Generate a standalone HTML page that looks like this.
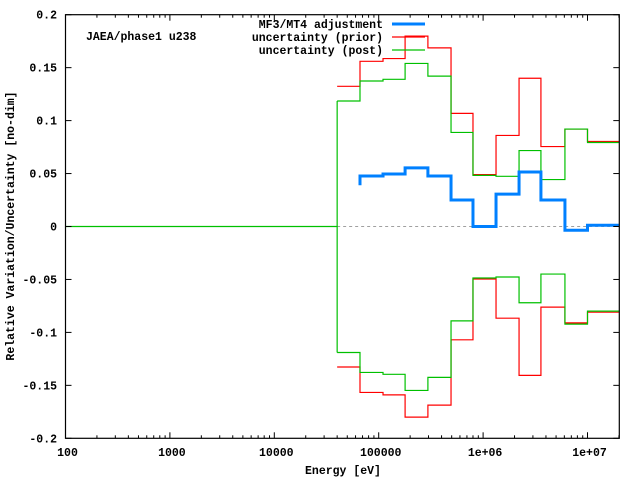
<!DOCTYPE html>
<html><head><meta charset="utf-8"><style>
body{margin:0;background:#fff}
svg{display:block}
text{font-family:"Liberation Mono",monospace;font-weight:bold;font-size:11.5px;fill:#000}
</style></head><body>
<svg id="chart" width="640" height="480" viewBox="0 0 640 480" xmlns="http://www.w3.org/2000/svg">
<g id="grid"></g>
<g id="series"></g>
<g id="axes"></g>
<text x="86" y="40">JAEA/phase1 u238</text>
<text x="343" y="474" text-anchor="middle">Energy [eV]</text>
<text transform="translate(14,226) rotate(-90)" text-anchor="middle">Relative Variation/Uncertainty [no-dim]</text>
<g>
<text x="383" y="28" text-anchor="end">MF3/MT4 adjustment</text>
<line x1="392" x2="425" y1="24" y2="24" stroke="#0080ff" stroke-width="3"/>
<text x="383" y="41" text-anchor="end">uncertainty (prior)</text>
<line x1="392" x2="425" y1="37" y2="37" stroke="#ff0000" stroke-width="1.2"/>
<text x="383" y="54" text-anchor="end">uncertainty (post)</text>
<line x1="392" x2="425" y1="50" y2="50" stroke="#00c000" stroke-width="1.2"/>
</g>
</svg>
<script>
const edges=[4e4,6.62e4,1.1e5,1.79e5,2.96e5,4.93e5,8.0e5,1.33e6,2.21e6,3.58e6,6.08e6,1e7,2e7];
const priorUp=[0.1324,0.156,0.1586,0.1798,0.1687,0.1068,0.049,0.086,0.140,0.0755,0.092,0.0803];
const priorLo=[-0.1327,-0.1567,-0.159,-0.180,-0.1687,-0.107,-0.0496,-0.0866,-0.1406,-0.0761,-0.091,-0.0809];
const postUp=[0.1185,0.1374,0.139,0.154,0.142,0.0888,0.0483,0.0474,0.0717,0.0443,0.092,0.0793];
const postLo=[-0.119,-0.1378,-0.1396,-0.1548,-0.1425,-0.0891,-0.0486,-0.0477,-0.072,-0.0449,-0.0922,-0.0799];
const adjStart=0.039;
const adj=[null,0.0477,0.0496,0.0553,0.0477,0.025,0,0.0306,0.0515,0.025,-0.0035,0.0012];
const yTicks=[0.2,0.15,0.1,0.05,0,-0.05,-0.1,-0.15,-0.2];
const yTickLabels=["0.2","0.15","0.1","0.05","0","-0.05","-0.1","-0.15","-0.2"];
const xTicks=[100,1000,10000,100000,1e6,1e7];
const xTickLabels=["100","1000","10000","100000","1e+06","1e+07"];

const L=65.5,R=619.3,T=14.7,B=438.3;
const X=e=>L+104.4*(Math.log10(e)-2);
const Y=v=>226.5-v*(B-T)/0.4;
const NS="http://www.w3.org/2000/svg";
function mk(tag,parent,attrs){const el=document.createElementNS(NS,tag);for(const k in attrs)el.setAttribute(k,attrs[k]);parent.appendChild(el);return el;}
const axes=document.getElementById('axes'),series=document.getElementById('series'),grid=document.getElementById('grid');

let zl=mk('line',grid,{x1:X(edges[0]),x2:R,y1:Y(0),y2:Y(0),stroke:'#a0a0a0','stroke-width':1,'stroke-dasharray':'3,3'});



function stepPath(vals,startIdx){let d='';for(let i=startIdx;i<vals.length;i++){const y=Y(vals[i]);if(i===startIdx)d+=`M${X(edges[i])},${y}`;else d+=`V${y}`;d+=`H${X(edges[i+1])}`;}return d;}

let p=mk('path',series,{d:stepPath(priorUp,0),fill:'none',stroke:'#ff0000','stroke-width':1.2});


p=mk('path',series,{d:stepPath(priorLo,0),fill:'none',stroke:'#ff0000','stroke-width':1.2});


p=mk('path',series,{d:`M${L},${Y(0)}H${X(edges[0])}V${Y(postLo[0])}M${X(edges[0])},${Y(postUp[0])}V${Y(0)}`,fill:'none',stroke:'#00c000','stroke-width':1.2});


p=mk('path',series,{d:stepPath(postUp,0),fill:'none',stroke:'#00c000','stroke-width':1.2});


p=mk('path',series,{d:stepPath(postLo,0),fill:'none',stroke:'#00c000','stroke-width':1.2});


p=mk('path',series,{d:`M${X(edges[1])},${Y(adjStart)}`+stepPath(adj,1).replace(/^M[^H]*/,`V${Y(adj[1])}`),fill:'none',stroke:'#0080ff','stroke-width':3});



let fr=mk('rect',axes,{x:L,y:T,width:R-L,height:B-T,fill:'none',stroke:'#000','stroke-width':1.2});


yTicks.forEach((v,i)=>{const y=Y(v);
 mk('line',axes,{x1:L,x2:L+6,y1:y,y2:y,stroke:'#000'});
 mk('line',axes,{x1:R,x2:R-6,y1:y,y2:y,stroke:'#000'});
 const t=mk('text',axes,{x:57,y:y+4,'text-anchor':'end'});t.textContent=yTickLabels[i];
 
 
});
xTicks.forEach((e,i)=>{const x=X(e);
 mk('line',axes,{x1:x,x2:x,y1:B,y2:B-6,stroke:'#000'});
 mk('line',axes,{x1:x,x2:x,y1:T,y2:T+6,stroke:'#000'});
 const t=mk('text',axes,{x:x+2,y:456,'text-anchor':'middle'});t.textContent=xTickLabels[i];
 
 
});
for(let d=2;d<=7;d++)for(let m=2;m<=9;m++){const x=X(m*Math.pow(10,d));if(x>R)continue;
 mk('line',axes,{x1:x,x2:x,y1:B,y2:B-3,stroke:'#000'});
 mk('line',axes,{x1:x,x2:x,y1:T,y2:T+3,stroke:'#000'});}
</script>
</body></html>
